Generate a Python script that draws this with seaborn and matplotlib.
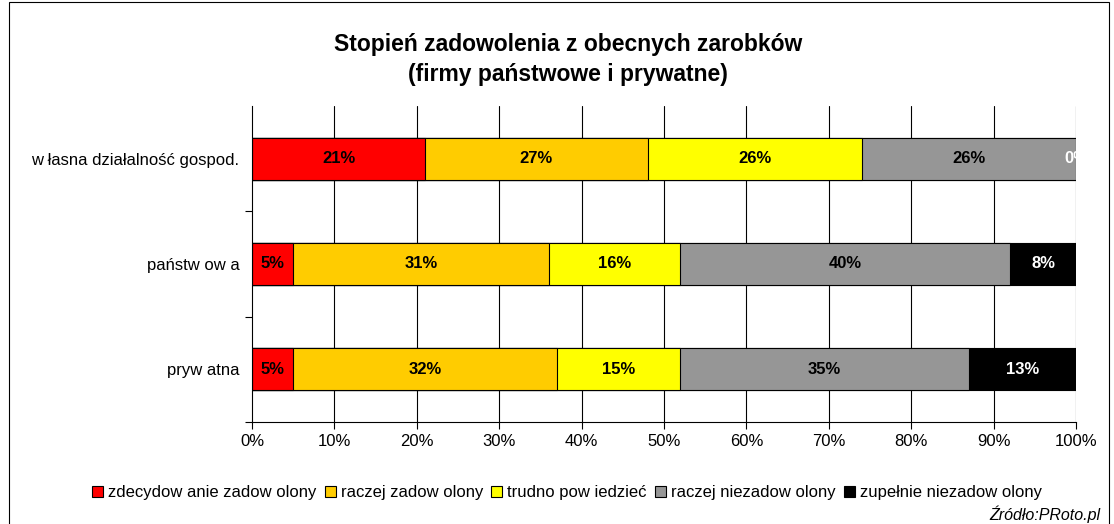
import numpy as np
import pandas as pd
import matplotlib
matplotlib.use("Agg")
import matplotlib.pyplot as plt
import seaborn as sns
from matplotlib.patches import Rectangle, Patch

categories = ["w łasna działalność gospod.", "państw ow a", "pryw atna"]
series = ["zdecydow anie zadow olony", "raczej zadow olony", "trudno pow iedzieć",
          "raczej niezadow olony", "zupełnie niezadow olony"]
values = {
    "zdecydow anie zadow olony": [21, 5, 5],
    "raczej zadow olony": [27, 31, 32],
    "trudno pow iedzieć": [26, 16, 15],
    "raczej niezadow olony": [26, 40, 35],
    "zupełnie niezadow olony": [0, 8, 13],
}
colors = ["#FF0000", "#FFCC00", "#FFFF00", "#969696", "#000000"]
label_colors = ["black", "black", "black", "black", "white"]
xticks = [0, 10, 20, 30, 40, 50, 60, 70, 80, 90, 100]

sns.set_style("white")
plt.rcParams["font.family"] = ["Liberation Sans", "DejaVu Sans"]
plt.rcParams["text.color"] = "black"
plt.rcParams["xtick.color"] = "black"
plt.rcParams["ytick.color"] = "black"
plt.rcParams["axes.labelcolor"] = "black"

fig = plt.figure(figsize=(11.14, 5.24), dpi=100)
ax = fig.add_axes([252/1114, 1-422/524, (1076-252)/1114, (422-106)/524])

df = pd.DataFrame(values, index=categories)
cum = df.cumsum(axis=1)

for gx in xticks[1:]:
    ax.axvline(gx, color="black", lw=0.8, zorder=0)

for i in range(len(series) - 1, -1, -1):
    s = series[i]
    d = pd.DataFrame({"cat": categories, "val": cum[s].values})
    sns.barplot(data=d, y="cat", x="val", orient="h", color=colors[i],
                order=categories, width=0.4, edgecolor="black", linewidth=0.8,
                saturation=1, ax=ax, zorder=2)

for j, c in enumerate(categories):
    for i, s in enumerate(series):
        v = df.loc[c, s]
        xc = cum.loc[c, s] - v / 2
        ax.text(xc, j, f"{v}%", ha="center", va="center", fontsize=12,
                fontweight="bold", color=label_colors[i] if v > 0 else "white",
                zorder=5, clip_on=True)

ax.set_xlim(0, 100)
ax.set_ylim(2.5, -0.5)
ax.set_xticks(xticks)
ax.set_xticklabels([f"{t}%" for t in xticks], fontsize=12)
ax.set_yticks(range(len(categories)))
ax.set_yticklabels(categories, fontsize=12)
ax.set_yticks([0.5, 1.5, 2.5], minor=True)
ax.tick_params(axis="y", which="major", length=0, pad=9)
ax.tick_params(axis="y", which="minor", length=5, width=0.8, direction="out", left=True)
ax.tick_params(axis="x", which="major", length=5, width=0.8, direction="out", bottom=True, pad=4)
ax.set_xlabel("")
ax.set_ylabel("")
for sp in ["top", "right"]:
    ax.spines[sp].set_visible(False)
for sp in ["left", "bottom"]:
    ax.spines[sp].set_color("black")
    ax.spines[sp].set_linewidth(0.8)
    ax.spines[sp].set_zorder(3)

fig.text(568/1114, 1-45/524, "Stopień zadowolenia z obecnych zarobków", ha="center",
         va="center", fontsize=16.5, fontweight="bold")
fig.text(568/1114, 1-75/524, "(firmy państwowe i prywatne)", ha="center",
         va="center", fontsize=16.5, fontweight="bold")

handles = [Patch(facecolor=colors[i], edgecolor="black", linewidth=0.8, label=series[i])
           for i in range(len(series))]
fig.legend(handles=handles, loc="center", bbox_to_anchor=(567/1114, 1-493/524), ncol=5,
           frameon=False, fontsize=12, handlelength=0.65, handleheight=0.65,
           handletextpad=0.3, columnspacing=0.5)

fig.text(1100/1114, 1-514/524, "Źródło:PRoto.pl", ha="right", va="center",
         fontsize=11.5, style="italic")

fig.patches.append(Rectangle((9/1114, -0.05), (1109-9)/1114, 1.05-2/524,
                             transform=fig.transFigure, fill=False,
                             edgecolor="black", lw=0.8))

fig.savefig("out.png", dpi=100)
